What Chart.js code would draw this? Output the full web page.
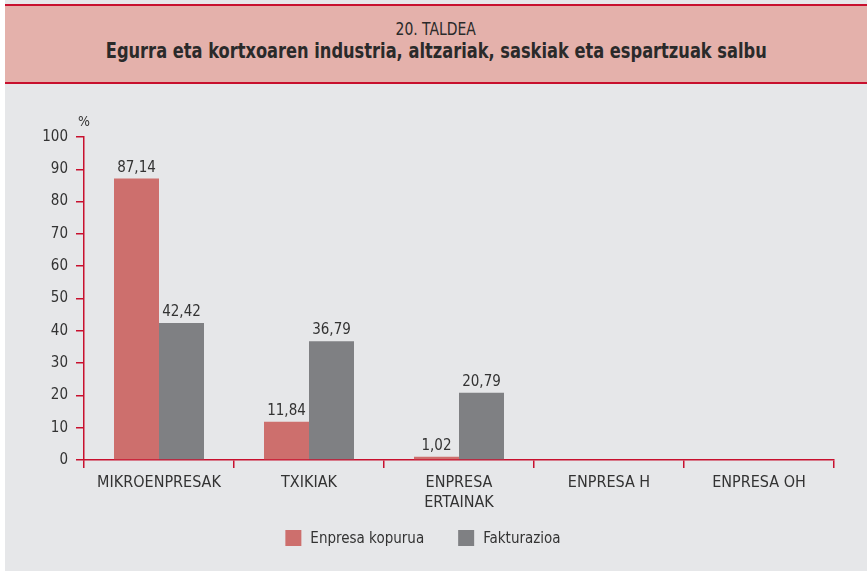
<!DOCTYPE html>
<html>
<head>
<meta charset="utf-8">
<script src="https://cdn.jsdelivr.net/npm/chart.js@4.4.1/dist/chart.umd.min.js"></script>
<style>
    body { margin: 0; background: #fff; width: 867px; height: 572px; overflow: hidden; }
    #panel { position: absolute; left: 5px; top: 0; width: 862px; height: 571px; background: #e6e7e9; }
    #header {
        position: absolute; left: 5px; top: 4px; width: 862px; height: 76px;
        background: #e4b1ab; border-top: 2px solid #c8102e; border-bottom: 2px solid #c8102e;
        font-family: "DejaVu Sans Condensed", "Liberation Sans Narrow", sans-serif; color: #2a2a2a; text-align: center;
    }
    #header div { position: absolute; left: 0; right: 0; line-height: 1; }
    #header span { display: inline-block; transform: scaleX(0.86); transform-origin: center; white-space: nowrap; }
    #header .group { top: 14px; font-size: 18px; }
    #header .title { top: 35px; font-size: 21px; font-weight: bold; }
    #wrap { position: absolute; left: 0; top: 84px; width: 867px; height: 487px; }
</style>
</head>
<body>
<div id="panel"></div>
<div id="header">
    <div class="group"><span>20. TALDEA</span></div>
    <div class="title"><span>Egurra eta kortxoaren industria, altzariak, saskiak eta espartzuak salbu</span></div>
</div>
<div id="wrap"><canvas id="chart"></canvas></div>
<script>
const CATEGORIES = ['MIKROENPRESAK', 'TXIKIAK', ['ENPRESA', 'ERTAINAK'], 'ENPRESA H', 'ENPRESA OH'];
const SERIES_NAMES = ['Enpresa kopurua', 'Fakturazioa'];
const ENPRESA_KOPURUA = [87.14, 11.84, 1.02, null, null];
const FAKTURAZIOA = [42.42, 36.79, 20.79, null, null];
const Y_TICKS = { min: 0, max: 100, step: 10 };

const FONT = '"DejaVu Sans Condensed", "Liberation Sans Narrow", sans-serif';
const AXIS_RED = '#c8102e';
const TEXT = '#333333';

// values above each bar, comma as decimal separator
const valueLabels = {
    id: 'valueLabels',
    afterDatasetsDraw(chart) {
        const ctx = chart.ctx;
        ctx.save();
        ctx.font = '15px ' + FONT;
        ctx.fillStyle = TEXT;
        ctx.textAlign = 'center';
        ctx.textBaseline = 'alphabetic';
        chart.data.datasets.forEach((ds, i) => {
            chart.getDatasetMeta(i).data.forEach((bar, j) => {
                const v = ds.data[j];
                if (v === null) return;
                ctx.fillText(v.toFixed(2).replace('.', ','), bar.x, bar.y - 7);
            });
        });
        ctx.restore();
    }
};

// "%" unit over the y axis
const unitLabel = {
    id: 'unitLabel',
    afterDraw(chart) {
        const ctx = chart.ctx;
        const y = chart.scales.y;
        ctx.save();
        ctx.font = '14px ' + FONT;
        ctx.fillStyle = TEXT;
        ctx.textAlign = 'center';
        ctx.textBaseline = 'middle';
        ctx.fillText('%', chart.chartArea.left, y.top - 15);
        ctx.restore();
    }
};

// legend drawn by hand so it sits where the original one is
const bottomLegend = {
    id: 'bottomLegend',
    afterDraw(chart) {
        const ctx = chart.ctx;
        const box = 16, gap = 9, spacing = 34, cy = 454, cx = 423;
        ctx.save();
        ctx.font = '15px ' + FONT;
        const items = chart.data.datasets.map(ds => ({ text: ds.label, color: ds.backgroundColor, w: ctx.measureText(ds.label).width }));
        const total = items.reduce((s, it) => s + box + gap + it.w, 0) + spacing * (items.length - 1);
        let x = cx - total / 2;
        ctx.textBaseline = 'middle';
        items.forEach(it => {
            ctx.fillStyle = it.color;
            ctx.fillRect(x, cy - box / 2, box, box);
            ctx.fillStyle = TEXT;
            ctx.fillText(it.text, x + box + gap, cy + 1);
            x += box + gap + it.w + spacing;
        });
        ctx.restore();
    }
};

new Chart(document.getElementById('chart'), {
    type: 'bar',
    data: {
        labels: CATEGORIES,
        datasets: [
            { label: SERIES_NAMES[0], data: ENPRESA_KOPURUA, backgroundColor: '#cd6f6d' },
            { label: SERIES_NAMES[1], data: FAKTURAZIOA, backgroundColor: '#7f8083' }
        ]
    },
    options: {
        responsive: true,
        maintainAspectRatio: false,
        animation: false,
        layout: { padding: { left: 0, right: 33, top: 53, bottom: 51 } },
        datasets: { bar: { categoryPercentage: 0.6, barPercentage: 1.0 } },
        scales: {
            x: {
                grid: { offset: true, drawOnChartArea: false, drawTicks: true, tickLength: 8, color: AXIS_RED, lineWidth: 1.5 },
                border: { color: AXIS_RED, width: 1.5 },
                ticks: { color: TEXT, font: { family: FONT, size: 16, lineHeight: 1.25 }, padding: 5, maxRotation: 0, autoSkip: false },
                afterFit(scale) { scale.height = 60; }
            },
            y: {
                min: Y_TICKS.min,
                max: Y_TICKS.max,
                grid: { drawOnChartArea: false, drawTicks: true, tickLength: 8, color: AXIS_RED, lineWidth: 1.5 },
                border: { color: AXIS_RED, width: 1.5 },
                ticks: { stepSize: Y_TICKS.step, color: TEXT, font: { family: FONT, size: 15 }, padding: 8 },
                afterFit(scale) { scale.width = 84; }
            }
        },
        plugins: {
            legend: { display: false },
            tooltip: { enabled: false }
        }
    },
    plugins: [valueLabels, unitLabel, bottomLegend]
});
</script>
</body>
</html>
